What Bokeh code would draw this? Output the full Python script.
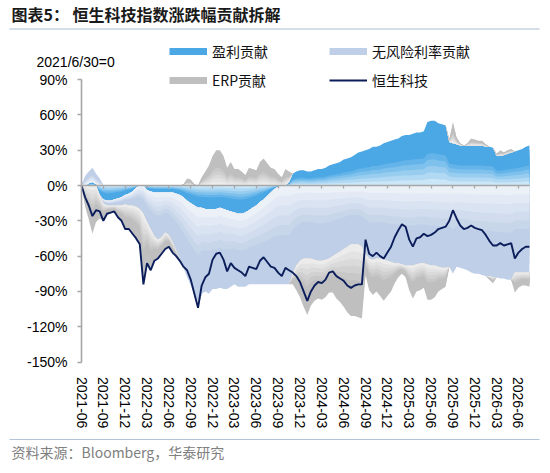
import numpy as np
from bokeh.plotting import figure
from bokeh.models import (Range1d, FixedTicker, PrintfTickFormatter, Label,
                          Legend, LegendItem, BoxAnnotation, LinearAxis)
from bokeh.embed import file_html
from bokeh.resources import INLINE

# ---------------- data (half-month steps from 2021-06-30) ----------------
months = np.arange(0, 62, 0.5)

tick_months = list(range(0, 61, 3))
tick_labels = ["2021-06", "2021-09", "2021-12", "2022-03", "2022-06", "2022-09",
               "2022-12", "2023-03", "2023-06", "2023-09", "2023-12", "2024-03",
               "2024-06", "2024-09", "2024-12", "2025-03", "2025-06", "2025-09",
               "2025-12", "2026-03", "2026-06"]
y_ticks = [-150, -120, -90, -60, -30, 0, 30, 60, 90]

earnings = [
    0, 0, 2, 3, 1, -8, -12, -13, -13, -12,
    -11, -10, -8, -7, -5, -2, 0, 0, -4, -5,
    -6, -6, -6, -6, -6, -6, -7, -8, -10, -13,
    -15, -17, -19, -19, -20, -20, -20, -20, -19, -20,
    -21, -22, -23, -24, -24, -23, -21, -19, -17, -14,
    -12, -9, -6, -3, -1, 0, 0, 3, 10, 12,
    13, 13, 12, 12, 13, 14, 14, 15, 17, 18,
    19, 20, 22, 23, 24, 26, 28, 29, 30, 31,
    33, 33, 34, 36, 37, 38, 39, 40, 42, 43,
    43, 44, 45, 45, 46, 54, 55, 55, 53, 52,
    51, 37, 36, 35, 34, 34, 34, 34, 34, 34,
    34, 33, 33, 32, 25, 25, 26, 27, 28, 29,
    30, 31, 33, 34]

riskfree = [
    0, 8, 10, 12, 9, 6, -3, -4, -4, -5,
    -6, -7, -8, -10, -12, -16, -20, -24, -27, -32,
    -37, -40, -38, -34, -36, -42, -48, -54, -60, -65,
    -70, -76, -80, -73, -70, -72, -68, -68, -68, -68,
    -67, -64, -61, -62, -62, -63, -63, -65, -67, -70,
    -72, -75, -78, -81, -83, -84, -84, -84, -75, -68,
    -64, -62, -62, -62, -63, -64, -64, -63, -62, -60,
    -58, -56, -54, -52, -50, -50, -50, -52, -58, -62,
    -63, -62, -62, -63, -64, -65, -66, -66, -67, -68,
    -68, -68, -67, -66, -66, -67, -68, -68, -69, -70,
    -70, -69, -75, -69, -70, -71, -72, -74, -75, -75,
    -76, -77, -77, -78, -78, -79, -79, -80, -80, -74,
    -74, -74, -74, -74]

erp = [
    0, -18, -29, -41, -31, -20, -15, -7, -6, -5,
    -10, -13, -21, -20, -24, -27, -30, -60, -35, -35,
    -21, -16, -14, -14, -10, -9, -5, -2, 1, 6,
    5, 1, -5, 7, 12, 17, 25, 30, 30, 25,
    15, 20, 14, 14, 12, 9, 15, 14, 13, 20,
    23, 19, 15, 14, 10, 7, 14, 9, -9, -21,
    -31, -41, -48, -40, -35, -32, -33, -32, -29, -31,
    -38, -43, -49, -56, -61, -61, -62, -61, -18, -27,
    -30, -28, -32, -35, -30, -25, -17, -12, -8, -10,
    -21, -28, -23, -23, -21, -30, -29, -27, -21, -18,
    -16, 2, 18, 6, 2, 0, 2, 6, 5, 4,
    4, 2, -3, -5, 2, 5, 2, 3, 3, -17,
    -13, -11, -11, -12]

hstech = [
    0, -10, -17, -26, -21, -22, -30, -24, -23, -22,
    -27, -30, -37, -37, -41, -45, -50, -84, -66, -72,
    -64, -62, -58, -54, -52, -57, -60, -64, -69, -72,
    -80, -92, -104, -85, -78, -75, -63, -58, -57, -63,
    -73, -66, -70, -72, -74, -77, -69, -70, -71, -64,
    -61, -65, -69, -70, -74, -77, -70, -72, -74, -77,
    -82, -90, -98, -90, -85, -82, -83, -80, -74, -73,
    -77, -79, -81, -85, -87, -85, -84, -84, -46, -58,
    -60, -57, -60, -62, -57, -52, -44, -38, -33, -35,
    -46, -52, -45, -44, -41, -43, -42, -40, -37, -36,
    -35, -30, -21, -28, -34, -37, -36, -34, -36, -37,
    -38, -42, -47, -51, -51, -49, -51, -50, -49, -62,
    -57, -54, -52, -52]

names = ["盈利贡献", "无风险利率贡献", "ERP贡献", "恒生科技"]
colors = ["#4BA8E5", "#BFCFE7", "#BFBFBF", "#0B1E5B"]

# ---------------- layout geometry (canvas pixels) ----------------
W, H = 541, 464          # canvas size
X0, Y0 = 81, 185         # canvas position of (2021-06, 0%)
PX_M = 7.283             # pixels per month
PX_U = 35.3 / 30         # pixels per percentage point

p = figure(width=W, height=H, output_backend="svg", toolbar_location=None,
           x_range=Range1d(-X0 / PX_M, (W - X0) / PX_M),
           y_range=Range1d(-(H - Y0) / PX_U, Y0 / PX_U),
           min_border=0, min_border_left=0, min_border_right=0,
           min_border_top=0, min_border_bottom=0)
p.outline_line_color = None
p.xgrid.visible = False
p.ygrid.visible = False
p.background_fill_color = "white"
p.border_fill_color = "white"


def mix(col, f):
    r, g, b = int(col[1:3], 16), int(col[3:5], 16), int(col[5:7], 16)
    return "#%02x%02x%02x" % (round(255 + (r - 255) * f),
                              round(255 + (g - 255) * f),
                              round(255 + (b - 255) * f))


n = len(months)
pos_base = np.zeros(n)
neg_base = np.zeros(n)
NB = 10
for vals, col in zip([earnings, riskfree, erp], colors[:3]):
    v = np.array(vals, dtype=float)
    for part, which in ((np.clip(v, 0, None), "pos"), (np.clip(v, None, 0), "neg")):
        base = (pos_base if which == "pos" else neg_base).copy()
        for k in range(NB - 1, -1, -1):
            t = (k + 0.5) / NB
            f = 0.22 + 0.78 * min(1.0, t / 0.55)
            p.varea(x=months, y1=base, y2=base + part * (k + 1) / NB,
                    fill_color=mix(col, f))
        if which == "pos":
            pos_base = pos_base + part
        else:
            neg_base = neg_base + part

r_line = p.line(months, hstech, line_color=colors[3], line_width=1.9)

# legend proxies (no visible data, only used to draw the legend swatches)
nan2 = [float("nan"), float("nan")]
r_e = p.line(x=months[:2], y=nan2, line_color=colors[0], line_width=7)
r_r = p.line(x=months[:2], y=nan2, line_color=colors[1], line_width=7)
r_p = p.line(x=months[:2], y=nan2, line_color=colors[2], line_width=7)
r_l = p.line(x=months[:2], y=nan2, line_color=colors[3], line_width=2)

legend = Legend(items=[LegendItem(label=names[0], renderers=[r_e]),
                       LegendItem(label=names[2], renderers=[r_p]),
                       LegendItem(label=names[1], renderers=[r_r]),
                       LegendItem(label=names[3], renderers=[r_l])],
                ncols=2, orientation="vertical", location=(169, H - 90),
                padding=0, margin=0, spacing=9, glyph_width=38, glyph_height=20,
                label_height=20, label_width=108, label_standoff=5,
                border_line_color=None, background_fill_alpha=0,
                label_text_font="Noto Sans CJK SC", label_text_font_size="14px",
                label_text_color="#111111")
p.add_layout(legend, "center")

# axes: y axis and the category axis sit at data positions inside the frame
axis_grey = "#A6A6A6"
xa = p.xaxis[0]
xa.fixed_location = 0
xa.bounds = (0, months[-1])
xa.ticker = FixedTicker(ticks=tick_months)
xa.axis_line_color = axis_grey
xa.axis_line_width = 1.6
xa.major_tick_line_color = axis_grey
xa.major_tick_line_width = 1.3
xa.major_tick_out = 3
xa.major_tick_in = 0
xa.minor_tick_line_color = None
xa.major_label_text_color = None

xb = LinearAxis(fixed_location=y_ticks[0], ticker=FixedTicker(ticks=tick_months),
                major_label_overrides={m: lab for m, lab in zip(tick_months, tick_labels)},
                major_label_orientation="vertical", axis_line_color=None,
                major_tick_line_color=None, minor_tick_line_color=None,
                major_label_standoff=9, major_label_text_font="Liberation Sans",
                major_label_text_font_size="14px", major_label_text_color="#000000")
p.add_layout(xb, "below")

ya = p.yaxis[0]
ya.fixed_location = 0
ya.bounds = (y_ticks[0], y_ticks[-1])
ya.ticker = FixedTicker(ticks=y_ticks)
ya.formatter = PrintfTickFormatter(format="%d%%")
ya.axis_line_color = axis_grey
ya.axis_line_width = 1.6
ya.major_tick_line_color = axis_grey
ya.major_tick_line_width = 1.3
ya.major_tick_out = 4
ya.major_tick_in = 0
ya.minor_tick_line_color = None
ya.major_label_standoff = 10
ya.major_label_text_font = "Liberation Sans"
ya.major_label_text_font_size = "14px"
ya.major_label_text_color = "#000000"

# texts (screen units: x from frame left, y up from frame bottom)
p.add_layout(Label(x=11, y=H - 13, x_units="screen", y_units="screen",
                   text="图表5： 恒生科技指数涨跌幅贡献拆解",
                   text_font="Noto Sans CJK SC", text_font_style="bold",
                   text_font_size="16px", text_color="#1a1a1a",
                   text_baseline="middle", text_align="left"))
p.add_layout(Label(x=36, y=H - 61, x_units="screen", y_units="screen",
                   text="2021/6/30=0", text_font="Liberation Sans",
                   text_font_size="14px", text_color="#000000",
                   text_baseline="middle", text_align="left"))
p.add_layout(Label(x=11, y=H - 451, x_units="screen", y_units="screen",
                   text="资料来源：Bloomberg，华泰研究", text_font="Noto Sans CJK SC",
                   text_font_size="14px", text_color="#808080",
                   text_baseline="middle", text_align="left"))

# rules under the title and above the source
for cy, col in ((28.5, "#A9BBD1"), (439.0, "#B3C3D7")):
    p.add_layout(BoxAnnotation(left=9, right=539, top=H - cy + 0.6, bottom=H - cy - 0.6,
                               left_units="screen", right_units="screen",
                               top_units="screen", bottom_units="screen",
                               fill_color=col, fill_alpha=1, line_color=None))

open("out.html", "w").write(file_html(p, INLINE))
